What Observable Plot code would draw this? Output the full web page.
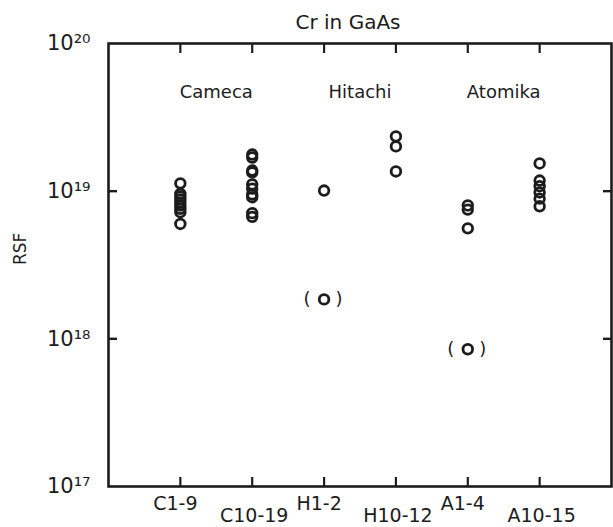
<!DOCTYPE html>
<html><head><meta charset="utf-8">
<script src="https://cdn.jsdelivr.net/npm/d3@7"></script>
<script src="https://cdn.jsdelivr.net/npm/@observablehq/plot@0.6"></script>
<style>body{margin:0;background:#fff;} svg{display:block}</style>
</head><body><div id="chart"></div>
<script>
const categories = ["C1-9", "C10-19", "H1-2", "H10-12", "A1-4", "A10-15"];
const rsfC1_9 = [1.13e19, 9.6e18, 9.2e18, 8.8e18, 8.4e18, 8.0e18, 7.6e18, 7.2e18, 6.0e18];
const rsfC10_19 = [1.77e19, 1.69e19, 1.38e19, 1.34e19, 1.11e19, 1.04e19, 9.5e18, 9.1e18, 7.1e18, 6.7e18];
const rsfH1_2 = [1.01e19];
const rsfH10_12 = [2.35e19, 2.01e19, 1.36e19];
const rsfA1_4 = [8.0e18, 7.5e18, 5.6e18];
const rsfA10_15 = [1.54e19, 1.18e19, 1.08e19, 9.8e18, 8.9e18, 7.9e18];
const bracketedCategory = ["H1-2", "A1-4"];
const bracketedRSF = [1.85e18, 8.5e17];
const manufacturers = ["Cameca", "Hitachi", "Atomika"];
const yTicks = [1e17, 1e18, 1e19, 1e20];
const title = "Cr in GaAs";
const yLabel = "RSF";

const series = [rsfC1_9, rsfC10_19, rsfH1_2, rsfH10_12, rsfA1_4, rsfA10_15];
const points = series.flatMap((vals, i) => vals.map(v => ({x: i + 1, rsf: v})));
const bracketed = bracketedCategory.map((c, i) => ({x: categories.indexOf(c) + 1, rsf: bracketedRSF[i]}));
const catPos = categories.map((c, i) => i + 1);
const oddPos = catPos.filter((p, i) => i % 2 === 0);
const evenPos = catPos.filter((p, i) => i % 2 === 1);

const supMap = {"0":"⁰","1":"¹","2":"²","3":"³","4":"⁴","5":"⁵","6":"⁶","7":"⁷","8":"⁸","9":"⁹"};
const fmtPow = d => "10" + String(Math.round(Math.log10(d))).split("").map(c => supMap[c]).join("");
const ink = "#1c1c1c";

const chart = Plot.plot({
  width: 613, height: 527,
  marginLeft: 108, marginRight: 2, marginTop: 43, marginBottom: 41,
  style: {fontFamily: "DejaVu Sans", color: ink, background: "#fff"},
  x: {type: "linear", domain: [0, categories.length + 1]},
  y: {type: "log", domain: [yTicks[0], yTicks[yTicks.length - 1]]},
  marks: [
    Plot.frame({stroke: ink, strokeWidth: 2.6}),
    Plot.axisY({anchor: "left", ticks: yTicks, tickSize: 0, tickPadding: 18, tickFormat: fmtPow, fontSize: 21, label: null}),
    Plot.axisY({anchor: "left", ticks: yTicks.slice(1, -1), tickSize: -9, strokeWidth: 2.4, fill: "none", tickFormat: () => "", label: null}),
    Plot.axisY({anchor: "right", ticks: yTicks.slice(1, -1), tickSize: -9, strokeWidth: 2.4, fill: "none", tickFormat: () => "", label: null}),
    Plot.axisX({anchor: "top", ticks: catPos, tickSize: -9, strokeWidth: 2.2, fill: "none", tickFormat: () => "", label: null}),
    Plot.axisX({anchor: "bottom", ticks: catPos, tickSize: -9, strokeWidth: 2.2, fill: "none", tickFormat: () => "", label: null}),
    Plot.axisX({anchor: "bottom", ticks: oddPos, tickSize: 0, tickPadding: 10, dx: -5, fontSize: 19, tickFormat: i => categories[i - 1], label: null}),
    Plot.axisX({anchor: "bottom", ticks: evenPos, tickSize: 0, tickPadding: 22, dx: 2, fontSize: 19, tickFormat: i => categories[i - 1], label: null}),
    Plot.text(manufacturers, {x: (d, i) => 2 * i + 1.5, frameAnchor: "top", lineAnchor: "middle", dy: 49, fontSize: 18, fill: ink}),
    Plot.text([title], {frameAnchor: "top", lineAnchor: "middle", dy: -21, dx: -12, fontSize: 20, fill: ink}),
    Plot.text([yLabel], {frameAnchor: "left", dx: -88, rotate: -90, fontSize: 17, fill: ink}),
    Plot.dot(points, {x: "x", y: "rsf", r: 4.8, stroke: ink, strokeWidth: 2.8, fill: "none"}),
    Plot.dot(bracketed, {x: "x", y: "rsf", r: 4.8, stroke: ink, strokeWidth: 2.8, fill: "none"}),
    Plot.text(bracketed, {x: "x", y: "rsf", text: () => "(", dx: -17, fontSize: 18, fill: ink}),
    Plot.text(bracketed, {x: "x", y: "rsf", text: () => ")", dx: 15, fontSize: 18, fill: ink})
  ]
});
document.getElementById("chart").appendChild(chart);
</script>
</body></html>
